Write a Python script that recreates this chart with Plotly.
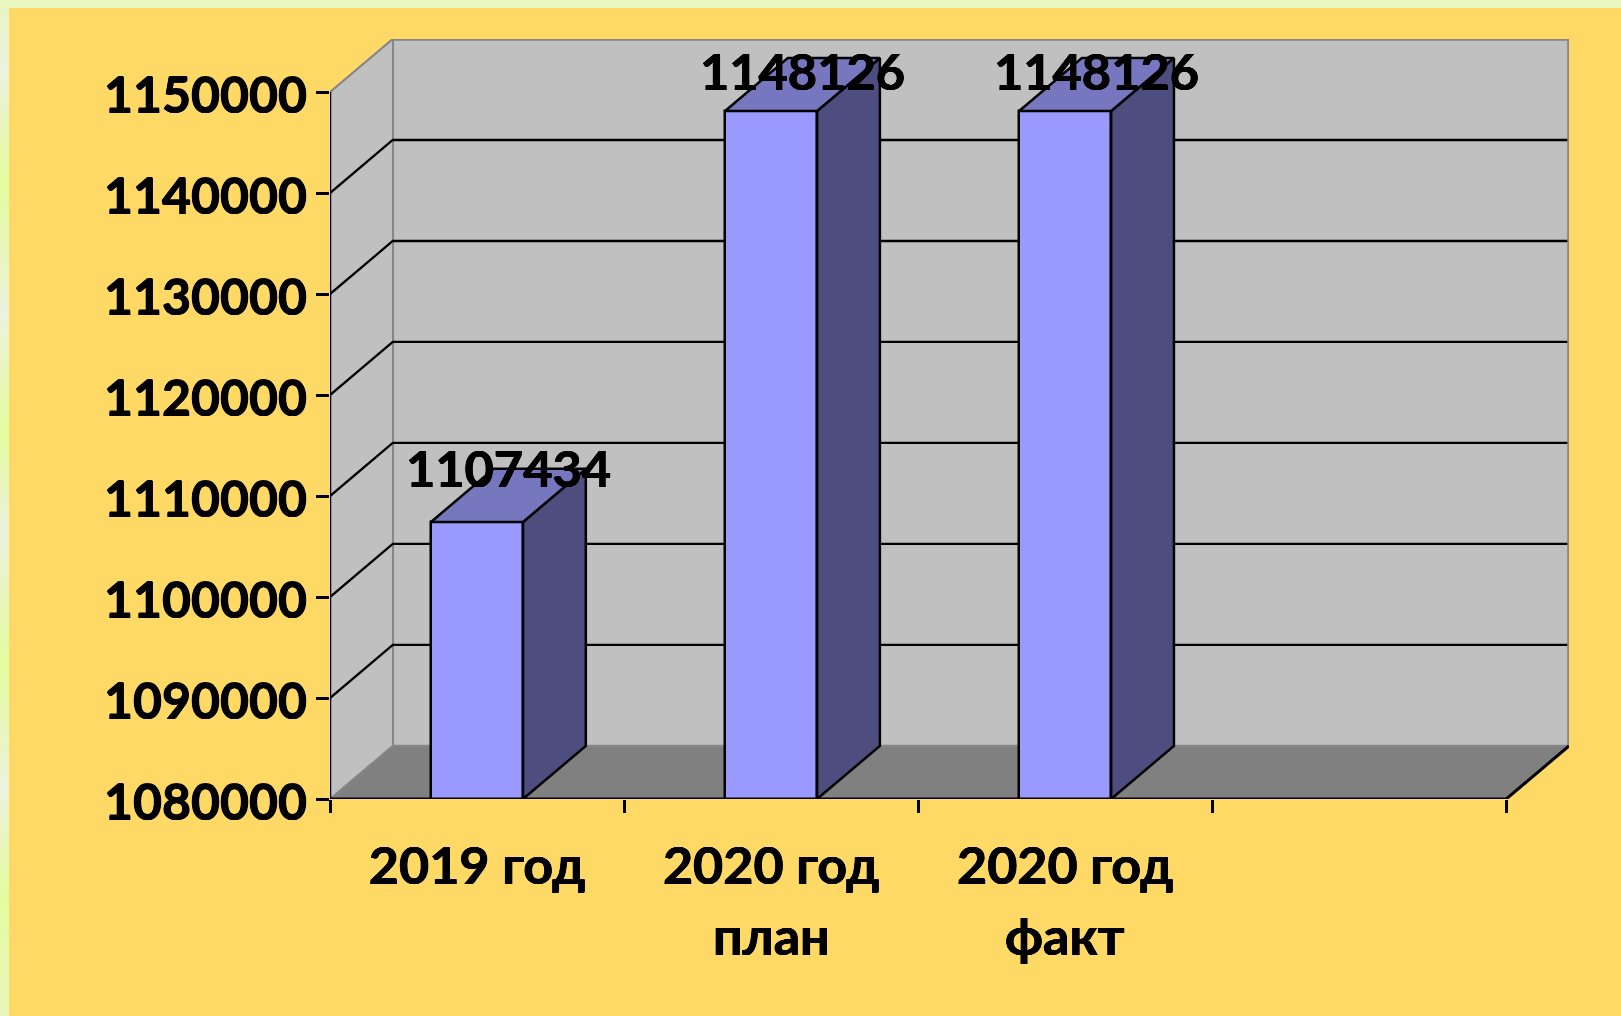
import plotly.graph_objects as go

categories = ["2019 год", "2020 год", "2020 год"]
category_notes = ["", "план", "факт"]
values = [1107434, 1148126, 1148126]
y_ticks = [1080000, 1090000, 1100000, 1110000, 1120000, 1130000, 1140000, 1150000]
label_shift = [28, 14, 14]

# left page band: pixel height and colour of the gradient stops
band_y = [0, 65, 180, 310, 428, 531, 660, 784, 894, 1016]
band_rgb = [(234, 244, 200), (236, 242, 220), (228, 252, 160), (236, 242, 220), (228, 252, 160),
            (236, 242, 220), (228, 252, 160), (236, 242, 220), (228, 252, 160), (232, 246, 190)]

BASE = y_ticks[0]
TOP = y_ticks[-1]
BAR_W = 0.313
DX = 0.2135       # 3-D depth along the category axis
DY = 5255         # 3-D depth along the value axis
X0 = -0.5
XE = 3.5

W, H = 1621, 1016
ML, MR, MT, MB = 330, 52, 39, 217

BG = "#FFD966"
PALE = "#EAF7C0"
WALL = "#C0C0C0"
FLOOR = "#808080"
EDGE = "#868686"
FRONT = "#9999FF"
TOPF = "#7777BF"
SIDE = "#4D4D7F"
FONT = "Lato"
BOLD = "0.5px 0 0 black, -0.5px 0 0 black, 0 0.4px 0 black, 0 -0.4px 0 black"
SIZE = 50.5


def px(x):
    return (x - ML) / (W - ML - MR)


def py(y):
    return (H - MB - y) / (H - MT - MB)


shapes = []


def page_rect(x0, x1, y0, y1, colour):
    shapes.append(dict(type="rect", xref="paper", yref="paper", x0=px(x0), x1=px(x1), y0=py(y0), y1=py(y1),
                       layer="below", line_width=0, fillcolor=colour))


# left band gradient, in small strips
STEP = 8
for y in range(8, H, STEP):
    for k in range(len(band_y) - 1):
        if band_y[k] <= y < band_y[k + 1]:
            t = (y - band_y[k]) / (band_y[k + 1] - band_y[k])
            c = [round(a + (b - a) * t) for a, b in zip(band_rgb[k], band_rgb[k + 1])]
            page_rect(0, 9, y, y + STEP, f"rgb({c[0]},{c[1]},{c[2]})")
            break
page_rect(9, W, 8, H, BG)


def poly(points, fill, line, width):
    path = "M " + " L ".join(f"{x},{y}" for x, y in points) + (" Z" if fill else "")
    shapes.append(dict(type="path", path=path, xref="x", yref="y", layer="below",
                       fillcolor=fill if fill else "rgba(0,0,0,0)",
                       line=dict(color=line, width=width)))


# walls and floor
poly([(X0 + DX, BASE + DY), (XE + DX, BASE + DY), (XE + DX, TOP + DY), (X0 + DX, TOP + DY)], WALL, EDGE, 2.5)
poly([(X0, BASE), (X0, TOP), (X0 + DX, TOP + DY), (X0 + DX, BASE + DY)], WALL, EDGE, 1.5)
poly([(X0, BASE), (XE, BASE), (XE + DX, BASE + DY), (X0 + DX, BASE + DY)], FLOOR, EDGE, 2)
# gridlines
for v in y_ticks[1:-1]:
    poly([(X0, v), (X0 + DX, v + DY), (XE + DX, v + DY)], None, "black", 2.3)

fig = go.Figure()

xs = list(range(len(values)))
fig.add_trace(go.Bar(x=xs, y=values, width=BAR_W, marker=dict(color=FRONT, line=dict(color="black", width=2.5)),
                     hoverinfo="skip", showlegend=False))


def line_trace(x, y, colour, width, fill=None):
    fig.add_trace(go.Scatter(x=x, y=y, mode="lines", fill="toself" if fill else None, fillcolor=fill,
                             line=dict(color=colour, width=width), cliponaxis=False,
                             hoverinfo="skip", showlegend=False))


# outer edges of the back wall
line_trace([X0 + DX, XE + DX, XE + DX], [TOP + DY, TOP + DY, BASE + DY], EDGE, 3.5)
line_trace([X0, X0 + DX], [TOP, TOP + DY], EDGE, 2)

# bar top and side faces
for i, v in zip(xs, values):
    l, r = i - BAR_W / 2, i + BAR_W / 2
    line_trace([r, r + DX, r + DX, r, r], [BASE, BASE + DY, v + DY, v, BASE], "black", 2.5, SIDE)
    line_trace([l, r, r + DX, l + DX, l], [v, v, v + DY, v + DY, v], "black", 2.5, TOPF)

# axis lines
line_trace([X0, X0], [BASE, TOP], "black", 2.5)
line_trace([X0, XE, XE + DX], [BASE, BASE, BASE + DY], "black", 3)

label_font = dict(family=FONT, size=SIZE, color="black", weight="bold", shadow=BOLD)

annotations = [
    dict(x=i + DX / 2, y=v + DY / 2, xref="x", yref="y", text=str(v), showarrow=False,
         yanchor="middle", xanchor="center", yshift=s, font=label_font)
    for i, v, s in zip(xs, values, label_shift)
]
annotations += [
    dict(x=i, y=0, xref="x", yref="paper", text=n, showarrow=False,
         yanchor="middle", xanchor="center", yshift=-136, font=dict(label_font, size=52))
    for i, n in zip(xs, category_notes) if n
]

fig.update_layout(
    width=W, height=H, autosize=False,
    margin=dict(l=ML, r=MR, t=MT, b=MB, pad=0),
    paper_bgcolor=PALE, plot_bgcolor="rgba(0,0,0,0)",
    bargap=0, showlegend=False, shapes=shapes, annotations=annotations,
    font=dict(family=FONT, color="black"),
    xaxis=dict(range=[X0, XE + DX], tickmode="array", tickvals=xs, ticktext=categories,
               ticks="", showgrid=False, zeroline=False, showline=False, ticklabelstandoff=32,
               tickfont=dict(label_font, size=52),
               minor=dict(tickmode="array", tickvals=[-0.5, 0.5, 1.5, 2.5, 3.5], ticks="outside",
                          ticklen=13, tickwidth=2.5, tickcolor="black", showgrid=False)),
    yaxis=dict(range=[BASE, TOP + DY], tickmode="array", tickvals=y_ticks, ticktext=[str(t) for t in y_ticks],
               ticks="outside", ticklen=13, tickwidth=2.5, tickcolor="black", showgrid=False,
               zeroline=False, showline=False, ticklabelstandoff=-1, ticklabelshift=3,
               tickfont=dict(label_font, size=50)),
)

fig.write_html("out.html", config=dict(displayModeBar=False),
               post_script="document.body.style.margin='0';document.body.style.overflow='hidden';")
